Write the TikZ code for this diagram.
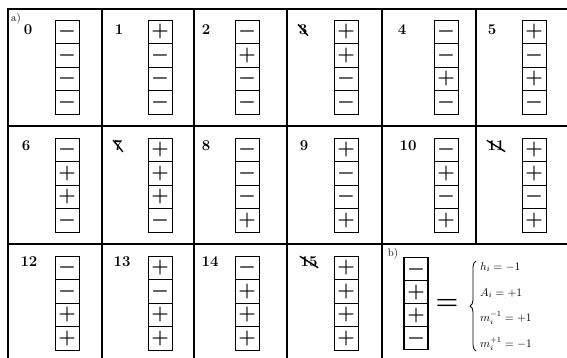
\RequirePackage{fix-cm}
\documentclass[tikz,border=0pt]{standalone}
\usetikzlibrary{decorations.pathreplacing}
\newcommand\signcol[5]{%
  \foreach \s [count=\k] in {#4} {
    \node[#5,anchor=north west] (#1-\k) at (#2,{#3+(\k-1)*23.5}) {$\s$};
  }%
}
\begin{document}
\begin{tikzpicture}[x=1pt,y=-1pt,
  gridline/.style={line width=1.3pt},
  cellbox/.style={draw, line width=0.9pt, minimum width=24pt, minimum height=23.5pt,
    inner sep=0pt, outer sep=0pt, font=\fontsize{20}{20}\selectfont\boldmath},
  bigbox/.style={draw, line width=1.7pt, minimum width=24pt, minimum height=23pt,
    inner sep=0pt, outer sep=0pt, font=\fontsize{20}{20}\selectfont\boldmath},
  num/.style={font=\fontsize{15}{17}\selectfont\bfseries, inner sep=0.5pt},
  strike/.style={line width=1.4pt},
  tag/.style={font=\fontsize{11}{13}\selectfont, inner sep=0pt},
  eq/.style={font=\fontsize{11.5}{13}\selectfont, inner sep=0pt, anchor=west}]
\useasboundingbox (0,0) rectangle (567,358);
% grid
\draw[gridline] (8,358) -- (8,9) -- (567,9);
\draw[gridline] (8,126) -- (567,126);
\draw[gridline] (8,244) -- (567,244);
\foreach \gx in {102,194,287,382} { \draw[gridline] (\gx,9) -- (\gx,358); }
\draw[gridline] (476,9) -- (476,244);
% labels
\node[tag] (la) at (16,19) {a)};
\node[tag] (lb) at (393,254) {b)};
\node[num] (n0) at (28,30) {0};
\node[num] (n1) at (119,30) {1};
\node[num] (n2) at (206,30) {2};
\node[num] (n3) at (303,30) {3};
\node[num] (n4) at (402,30) {4};
\node[num] (n5) at (492,30) {5};
\node[num] (n6) at (26,146) {6};
\node[num] (n7) at (118,146) {7};
\node[num] (n8) at (206,146) {8};
\node[num] (n9) at (304,146) {9};
\node[num] (n10) at (408,146) {10};
\node[num] (n11) at (496,146) {11};
\node[num] (n12) at (29,262) {12};
\node[num] (n13) at (122,262) {13};
\node[num] (n14) at (210,262) {14};
\node[num] (n15) at (309,262) {15};
\foreach \n in {n3,n7,n11,n15} { \draw[strike] (\n.north west) -- (\n.south east); }
% columns of signs
\signcol{c0}{55}{20}{-,-,-,-}{cellbox}
\signcol{c1}{148}{20}{+,-,-,-}{cellbox}
\signcol{c2}{235}{20}{-,+,-,-}{cellbox}
\signcol{c3}{334}{20}{+,+,-,-}{cellbox}
\signcol{c4}{434}{20}{-,-,+,-}{cellbox}
\signcol{c5}{522}{20}{+,-,+,-}{cellbox}
\signcol{c6}{55}{138}{-,+,+,-}{cellbox}
\signcol{c7}{148}{138}{+,+,+,-}{cellbox}
\signcol{c8}{235}{138}{-,-,-,+}{cellbox}
\signcol{c9}{334}{138}{+,-,-,+}{cellbox}
\signcol{c10}{434}{138}{-,+,-,+}{cellbox}
\signcol{c11}{522}{138}{+,+,-,+}{cellbox}
\signcol{c12}{55}{256}{-,-,+,+}{cellbox}
\signcol{c13}{148}{256}{+,-,+,+}{cellbox}
\signcol{c14}{235}{256}{-,+,+,+}{cellbox}
\signcol{c15}{334}{256}{+,+,+,+}{cellbox}
% b) part
\foreach \s [count=\k] in {-,+,+,-} {
  \node[bigbox,anchor=north west] (b-\k) at (404,{257.5+(\k-1)*23}) {$\s$};
}
\node[font=\fontsize{26}{26}\selectfont\boldmath, inner sep=0pt] (eqs) at (447,304) {$=$};
\coordinate (brb) at (476,351);
\coordinate (brt) at (476,261);
\draw[line width=0.8pt, decorate, decoration={brace, amplitude=6pt}] (brb) -- (brt);
\node[eq] (e1) at (480,267) {$h_i = -1$};
\node[eq] (e2) at (480,293) {$A_i = +1$};
\node[eq] (e3) at (480,318) {$m_i^{-1} = +1$};
\node[eq] (e4) at (480,344) {$m_i^{+1} = -1$};
\end{tikzpicture}
\end{document}
